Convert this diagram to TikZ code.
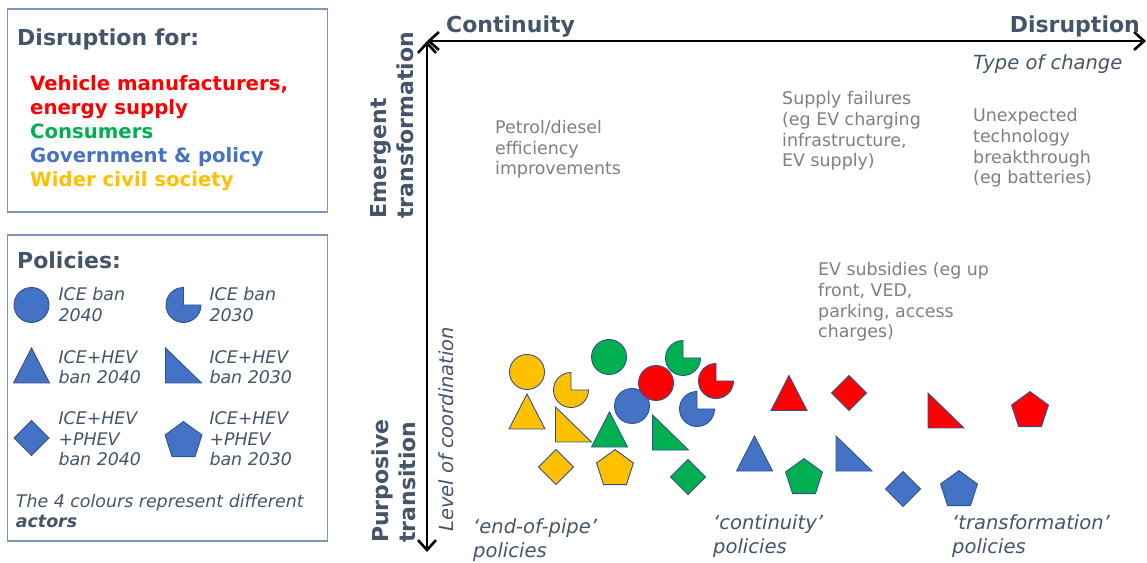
\documentclass[tikz,border=0pt]{standalone}
\usepackage{fontspec}
\setmainfont{DejaVu Sans}
\usetikzlibrary{arrows.meta}

\definecolor{slate}{HTML}{44546A}
\definecolor{note}{HTML}{7F7F7F}
\definecolor{boxline}{HTML}{7F93C0}
\definecolor{rimline}{HTML}{2F528F}
\definecolor{makers}{HTML}{FF0000}
\definecolor{consumers}{HTML}{00B050}
\definecolor{govt}{HTML}{4472C4}
\definecolor{civil}{HTML}{FFC000}

% one pic per policy
\tikzset{
  icefull/.pic={\path[pic actions] (0,0) circle[radius=17.5];},
  icecut/.pic={\path[pic actions] (0,0) -- (0,17.5) arc[start angle=90,end angle=360,radius=17.5] -- cycle;},
  hevtri/.pic={\path[pic actions] (-18,-17.5) -- (18,-17.5) -- (0,17.5) -- cycle;},
  hevcut/.pic={\path[pic actions] (-18,-17.5) -- (18,-17.5) -- (-18,17.5) -- cycle;},
  phevdia/.pic={\path[pic actions] (0,17.5) -- (17.5,0) -- (0,-17.5) -- (-17.5,0) -- cycle;},
  phevpent/.pic={\path[pic actions] (90:19.4) -- (162:19.4) -- (234:19.4) -- (306:19.4) -- (18:19.4) -- cycle;}
}

\begin{document}
\begin{tikzpicture}[x=1pt,y=1pt,inner sep=0pt]
    \tikzstyle{head}=[font=\bfseries\fontsize{22}{27}\selectfont,text=slate]
    \tikzstyle{legtext}=[font=\itshape\fontsize{17.4}{20.6}\selectfont,text=slate,align=left,anchor=west]
    \tikzstyle{note}=[font=\fontsize{17.4}{20.6}\selectfont,text=note,align=left,anchor=west]
    \tikzstyle{axislab}=[font=\itshape\fontsize{19.5}{24}\selectfont,text=slate]
    \tikzstyle{framebox}=[draw=boxline,line width=1.5pt,minimum width=320pt,anchor=north west]
    \tikzstyle{actor}=[draw=rimline,line width=0.9pt]
    \tikzstyle{axis}=[line width=2.6pt,{Straight Barb[length=10pt,width=18pt]}-{Straight Barb[length=10pt,width=18pt]}]

    \useasboundingbox (0,0) rectangle (1147,562);

    % who is disrupted
    \node[framebox,minimum height=203pt] (actorbox) at (6.7,553.7) {};
    \node[head,anchor=west] (actorhead) at (17,522.5) {Disruption for:};
    \node[font=\bfseries\fontsize{19.7}{23.9}\selectfont,align=left,anchor=west] (actorlist) at (30,429)
        {\textcolor{makers}{Vehicle manufacturers,}\\\textcolor{makers}{energy supply}\\
         \textcolor{consumers}{Consumers}\\\textcolor{govt}{Government \& policy}\\
         \textcolor{civil}{Wider civil society}};

    % policy key
    \node[framebox,minimum height=306pt] (policybox) at (6.7,327.7) {};
    \node[head,anchor=west] (policyhead) at (17,302) {Policies:};
    \pic[actor,fill=govt] at (31.5,257) {icefull};
    \pic[actor,fill=govt] at (183.5,257) {icecut};
    \pic[actor,fill=govt] at (31.5,196.5) {hevtri};
    \pic[actor,fill=govt] at (183.5,196.5) {hevcut};
    \pic[actor,fill=govt] at (31.5,124) {phevdia};
    \pic[actor,fill=govt] at (183.5,121) {phevpent};
    \node[legtext] (key1) at (58.3,257.5) {ICE ban\\2040};
    \node[legtext] (key2) at (209.3,257.5) {ICE ban\\2030};
    \node[legtext] (key3) at (58.3,195) {ICE+HEV\\ban 2040};
    \node[legtext] (key4) at (209.3,195) {ICE+HEV\\ban 2030};
    \node[legtext] (key5) at (58.3,123) {ICE+HEV\\+PHEV\\ban 2040};
    \node[legtext] (key6) at (209.3,123) {ICE+HEV\\+PHEV\\ban 2030};
    \node[legtext] (keynote) at (15.7,51) {The 4 colours represent different\\\textbf{actors}};

    % axes
    \coordinate (corner) at (427,521);
    \coordinate (xend) at (1146,521);
    \coordinate (yend) at (427,10);
    \draw[axis] (corner) -- (xend);
    \draw[axis] (corner) -- (yend);

    \node[head,anchor=base west] (cont) at (446,529.7) {Continuity};
    \node[head,anchor=base east] (disr) at (1140,529.7) {Disruption};
    \node[axislab,anchor=base west] (typechg) at (973,492.5) {Type of change};
    \node[head,rotate=90,align=left,anchor=west] (emerg) at (392,343) {Emergent\\transformation};
    \node[head,rotate=90,align=left,anchor=west] (purp) at (394,19) {Purposive\\transition};
    \node[axislab,rotate=90,anchor=west] (coord) at (446,30) {Level of coordination};

    % examples of change
    \node[note] (petrol) at (495,412.5) {Petrol/diesel\\efficiency\\improvements};
    \node[note] (supply) at (782,431) {Supply failures\\(eg EV charging\\infrastructure,\\EV supply)};
    \node[note] (breakthru) at (973,414) {Unexpected\\technology\\breakthrough\\(eg batteries)};
    \node[note] (subsidy) at (818,260) {EV subsidies (eg up\\front, VED,\\parking, access\\charges)};

    % policies placed by actor
    \foreach \col/\x/\y in {civil/527/190, consumers/609/205, govt/632/156, makers/656/179}
        \pic[actor,fill=\col] at (\x,\y) {icefull};
    \foreach \col/\x/\y in {civil/571/172, consumers/683/204, makers/716/181, govt/697/153}
        \pic[actor,fill=\col] at (\x,\y) {icecut};
    \foreach \col/\x/\y in {civil/527/150.5, consumers/609.5/132.5, govt/754.5/108.5, makers/789/169}
        \pic[actor,fill=\col] at (\x,\y) {hevtri};
    \foreach \col/\x/\y in {civil/573.5/137.5, consumers/670.5/129.5, govt/854/108.5, makers/946/151.5}
        \pic[actor,fill=\col] at (\x,\y) {hevcut};
    \foreach \col/\x/\y in {civil/556/95, consumers/688/85, govt/903/73, makers/849/169}
        \pic[actor,fill=\col] at (\x,\y) {phevdia};
    \foreach \col/\x/\y in {civil/615/93, consumers/804/84, govt/959/72, makers/1030/151}
        \pic[actor,fill=\col] at (\x,\y) {phevpent};

    \node[axislab,align=left,anchor=west] (endpipe) at (473,22) {‘end-of-pipe’\\policies};
    \node[axislab,align=left,anchor=west] (contpol) at (713,26) {‘continuity’\\policies};
    \node[axislab,align=left,anchor=west] (transpol) at (952,26) {‘transformation’\\policies};
\end{tikzpicture}
\end{document}
